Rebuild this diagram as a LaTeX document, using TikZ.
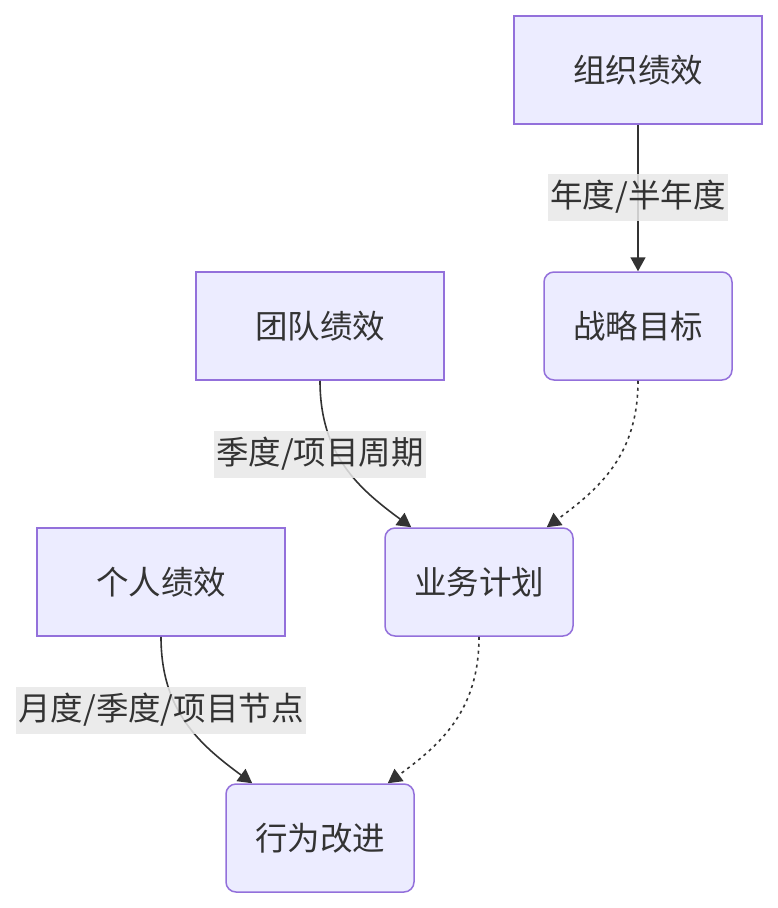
\documentclass[tikz,border=0pt]{standalone}
\usepackage{fontspec}
\setmainfont{Noto Sans CJK SC}
\usepackage{tikz}
\usetikzlibrary{arrows.meta,positioning,calc}
\usepackage{xcolor}
\definecolor{nodefill}{HTML}{ECECFF}
\definecolor{nodeline}{HTML}{9370DB}
\definecolor{inkgrey}{HTML}{333333}
\definecolor{lblgrey}{HTML}{E8E8E8}
\tikzset{
    sqbox/.style={draw=nodeline, line width=1.5pt, fill=nodefill,
                  minimum width=248pt, minimum height=108pt,
                  font=\fontsize{32.5}{38}\selectfont, text=inkgrey, align=center},
    rbox/.style={sqbox, rounded corners=10pt, minimum width=188pt},
    lbl/.style={fill=lblgrey, fill opacity=0.85, text opacity=1,
                inner xsep=2pt, inner ysep=0pt, minimum height=47pt,
                font=\fontsize{32.5}{38}\selectfont, text=inkgrey},
}

\begin{document}
\begin{tikzpicture}[
    x=1pt, y=-1pt,
    conn/.style={line width=1.6pt, inkgrey, -{Triangle[length=14pt,width=15pt]}},
    dconn/.style={conn, dash pattern=on 3pt off 4pt}
]
    \useasboundingbox (0,0) rectangle (777,908);

    \node[sqbox] (org) at (638,70) {组织绩效};
    \node[rbox] (goal) at (638,326) {战略目标};
    \node[sqbox] (team) at (320,326) {团队绩效};
    \node[rbox] (plan) at (479,582) {业务计划};
    \node[sqbox] (self) at (161,582) {个人绩效};
    \node[rbox] (act) at (320,838) {行为改进};

    \draw[conn] (org) -- (goal);
    \draw[conn] (team.south) .. controls +(0,74) and +(-53,-39)
        .. ([xshift=27pt]plan.north west);
    \draw[dconn] (goal.south) .. controls +(0,74) and +(53,-39)
        .. ([xshift=-27pt]plan.north east);
    \draw[conn] (self.south) .. controls +(0,74) and +(-53,-39)
        .. ([xshift=27pt]act.north west);
    \draw[dconn] (plan.south) .. controls +(0,74) and +(53,-39)
        .. ([xshift=-27pt]act.north east);

    \node[lbl] (l1) at (638,197) {年度/半年度};
    \node[lbl] (l2) at (320,454) {季度/项目周期};
    \node[lbl] (l3) at (161,710) {月度/季度/项目节点};
\end{tikzpicture}
\end{document}
